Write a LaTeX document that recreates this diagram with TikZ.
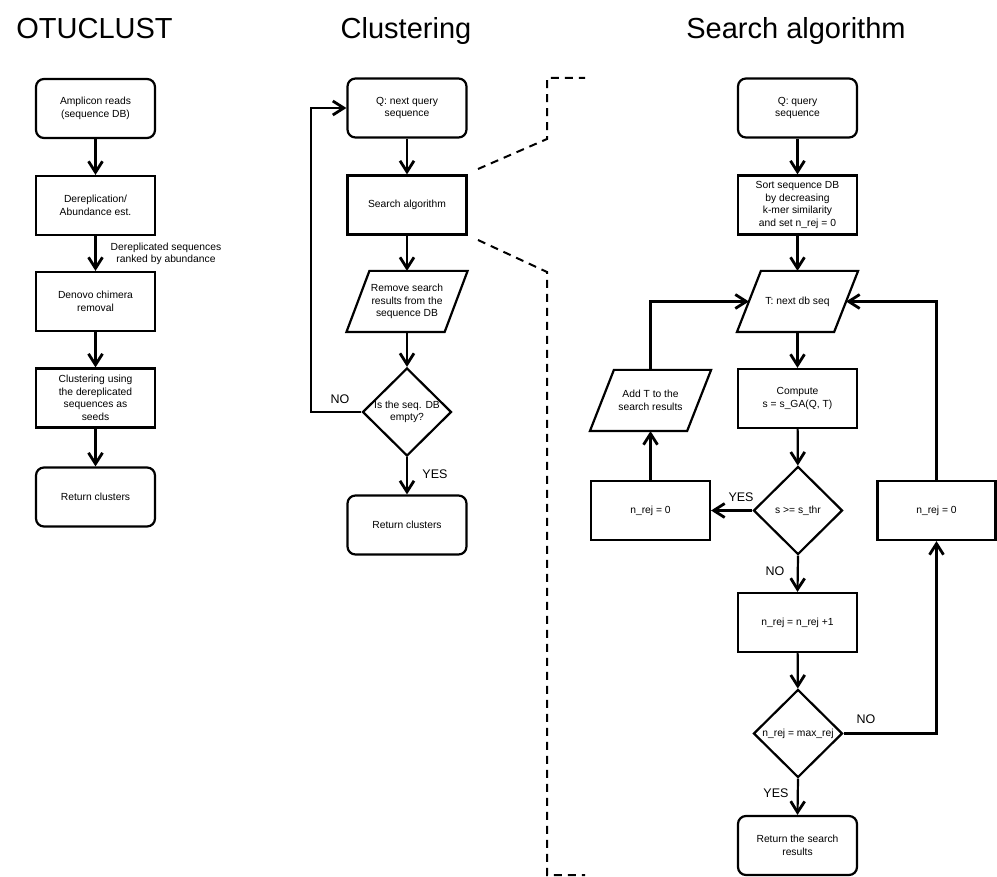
\documentclass[tikz,border=0pt]{standalone}
\usepackage{fontspec}
\setmainfont{Liberation Sans}
\usetikzlibrary{arrows.meta,shapes.geometric}
\begin{document}
\begin{tikzpicture}[x=1pt,y=-1pt, line width=2.2pt,
  every node/.style={font=\fontsize{10.3}{12.5}\selectfont, align=center},
  box/.style={draw, rectangle, line width=2.2pt, minimum width=119pt, minimum height=59pt, inner sep=2pt},
  rbox/.style={box, rounded corners=8pt},
  pbox/.style={rectangle, minimum width=119pt, minimum height=59pt, inner sep=2pt},
  dia/.style={draw, diamond, line width=2.2pt, minimum width=89pt, minimum height=88pt, inner sep=0pt},
  arr/.style={line width=2.2pt, -{Straight Barb[length=11pt,width=14pt,line width=2.8pt]}},
  lab/.style={font=\fontsize{12.5}{14}\selectfont},
  ttl/.style={font=\fontsize{29}{34}\selectfont, anchor=base},
  dashline/.style={dash pattern=on 8pt off 6pt, line width=2pt}]
\useasboundingbox (0,0) rectangle (997,877);

% titles
\node[ttl] (t1) at (94.5,39) {OTUCLUST};
\node[ttl] (t2) at (406,39) {Clustering};
\node[ttl] (t3) at (796,39) {Search algorithm};

% OTUCLUST column
\node[rbox] (amp) at (95.5,108.5) {Amplicon reads\\(sequence DB)};
\node[box] (derep) at (95.5,205.5) {Dereplication/\\Abundance est.};
\node[box] (denovo) at (95.5,301.5) {Denovo chimera\\removal};
\node[box] (clus) at (95.5,398) {Clustering using\\the dereplicated\\sequences as\\seeds};
\node[rbox] (ret1) at (95.5,497) {Return clusters};
\node[font=\fontsize{10.3}{11.7}\selectfont] (derlab) at (166,254) {Dereplicated sequences\\ranked by abundance};
\draw[arr] (amp) -- (derep);
\draw[arr] (derep) -- (denovo);
\draw[arr] (denovo) -- (clus);
\draw[arr] (clus) -- (ret1);

% Clustering column
\node[rbox] (q1) at (407,108) {Q: next query\\sequence};
\node[box] (search) at (407,205) {Search algorithm};
\node[pbox] (remove) at (407,301.5) {Remove search\\results from the\\sequence DB};
\draw ([xshift=23pt]remove.north west) -- (remove.north east) -- ([xshift=-23pt]remove.south east) -- (remove.south west) -- cycle;
\node[dia] (dia1) at (407,412) {Is the seq. DB\\empty?};
\node[rbox] (ret2) at (407,525) {Return clusters};
\coordinate (loopL) at (311,412);
\draw[arr] (q1) -- (search);
\draw[arr] (search) -- (remove);
\draw[arr] (remove) -- (dia1);
\draw[arr] (dia1) -- (ret2);
\draw[arr] (dia1.west) -- (loopL) |- (q1.west);
\node[lab] (no1) at (340,399) {NO};
\node[lab] (yes1) at (435,474) {YES};

% dashed zoom lines
\draw[dashline] (478,169) -- (547,139) -- (547,78) -- (585,78);
\draw[dashline] (478,240) -- (547,272) -- (547,875) -- (585,875);

% Search algorithm column
\node[rbox] (q2) at (797.5,108) {Q: query\\sequence};
\node[box] (sort) at (797.5,205) {Sort sequence DB\\by decreasing\\k-mer similarity\\and set n\_rej = 0};
\node[pbox] (T) at (797.5,301.5) {T: next db seq};
\draw ([xshift=24pt]T.north west) -- (T.north east) -- ([xshift=-24pt]T.south east) -- (T.south west) -- cycle;
\node[box] (comp) at (797.5,398.5) {Compute\\s = s\_GA(Q, T)};
\node[dia] (dia2) at (798,510.5) {s >= s\_thr};
\node[box] (nrejL) at (650.5,510.5) {n\_rej = 0};
\node[pbox] (addT) at (650.5,400.5) {Add T to the\\search results};
\draw ([xshift=24pt]addT.north west) -- (addT.north east) -- ([xshift=-24pt]addT.south east) -- (addT.south west) -- cycle;
\node[box, minimum width=118pt] (nrejR) at (936.5,510.5) {n\_rej = 0};
\node[box] (inc) at (797.5,622.5) {n\_rej = n\_rej +1};
\node[dia] (dia3) at (798,733.5) {n\_rej = max\_rej};
\node[rbox] (ret3) at (797.5,845.5) {Return the search\\results};

\coordinate (Tl) at ([xshift=12pt]T.west);
\coordinate (Tr) at ([xshift=-12pt]T.east);
\coordinate (noR) at (936.5,733.5);

\draw[arr] (q2) -- (sort);
\draw[arr] (sort) -- (T);
\draw[arr] (T) -- (comp);
\draw[arr] (comp) -- (dia2);
\draw[arr] (dia2.west) -- (nrejL.east);
\draw[arr] (dia2.south) -- (inc.north);
\draw[arr] (inc) -- (dia3);
\draw[arr] (dia3.south) -- (ret3.north);
\draw[arr] (dia3.east) -- (noR) -- (nrejR.south);
\draw[arr] (nrejR.north) |- (Tr);
\draw[arr] (nrejL.north) -- (addT.south);
\draw[arr] (addT.north) |- (Tl);

\node[lab] (yes2) at (741,497) {YES};
\node[lab] (no2) at (775,571) {NO};
\node[lab] (no3) at (866,719) {NO};
\node[lab] (yes3) at (776,793) {YES};
\end{tikzpicture}
\end{document}
